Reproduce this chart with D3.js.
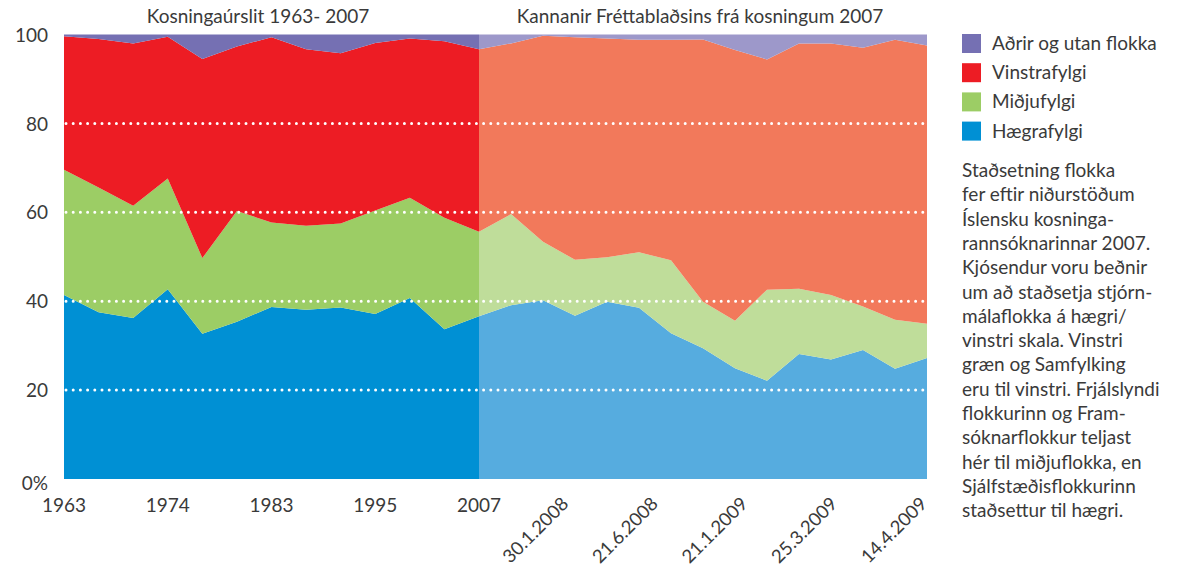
<!DOCTYPE html>
<html>
<head>
<meta charset="utf-8">
<script src="https://cdn.jsdelivr.net/npm/d3@7"></script>
<style>
  body { margin: 0; background: #fff; }
  svg { display: block; font-family: Lato, "Open Sans", sans-serif; }
</style>
</head>
<body>
<div id="chart"></div>
<script>
// election results 1963-2007 (% of vote by left/right placement)
const years = [1963, 1967, 1971, 1974, 1978, 1979, 1983, 1987, 1991, 1995, 1999, 2003, 2007]
const yearTicks = [1963, 1974, 1983, 1995, 2007]
const electRight = [41.4, 37.5, 36.2, 42.7, 32.7, 35.4, 38.7, 38.1, 38.6, 37.1, 40.7, 33.7, 36.6]
const electCenter = [28.2, 28.1, 25.3, 24.9, 17.0, 24.9, 19.0, 18.9, 18.9, 23.3, 22.6, 25.1, 19.0]
const electLeft = [30.0, 33.4, 36.5, 31.9, 44.8, 37.0, 41.7, 39.7, 38.3, 37.7, 35.8, 39.7, 41.1]
const electOther = [0.4, 1.0, 2.0, 0.5, 5.5, 2.7, 0.6, 3.3, 4.2, 1.9, 0.9, 1.5, 3.3]

// Fréttablaðið polls after the 2007 election
const pollTicks = ['30.1.2008', '21.6.2008', '21.1.2009', '25.3.2009', '14.4.2009']
const pollRight = [39.1, 40.2, 36.7, 39.9, 38.5, 32.8, 29.4, 24.9, 22.1, 28.1, 26.9, 29.0, 24.8, 27.2]
const pollCenter = [20.5, 13.2, 12.6, 10.0, 12.5, 16.4, 10.5, 10.7, 20.5, 14.7, 14.5, 9.8, 11.0, 7.7]
const pollLeft = [38.4, 46.3, 50.1, 49.2, 47.8, 49.6, 59.0, 60.9, 51.8, 55.2, 56.6, 58.2, 63.0, 62.6]
const pollOther = [2.0, 0.3, 0.6, 0.9, 1.2, 1.2, 1.1, 3.5, 5.6, 2.0, 2.0, 3.0, 1.2, 2.5]

const keys = ['right', 'center', 'left', 'other']
const legendNames = ['Aðrir og utan flokka', 'Vinstrafylgi', 'Miðjufylgi', 'Hægrafylgi']
const darkColors = { right: '#0090d4', center: '#9ccd65', left: '#ed1c24', other: '#7570b3' }
const lightColors = { right: '#56acdf', center: '#bfdd9a', left: '#f2795b', other: '#9d98ca' }

const note = [
  'Staðsetning flokka',
  'fer eftir niðurstöðum',
  'Íslensku kosninga-',
  'rannsóknarinnar 2007.',
  'Kjósendur voru beðnir',
  'um að staðsetja stjórn-',
  'málaflokka á hægri/',
  'vinstri skala. Vinstri',
  'græn og Samfylking',
  'eru til vinstri. Frjálslyndi',
  'flokkurinn og Fram-',
  'sóknarflokkur teljast',
  'hér til miðjuflokka, en',
  'Sjálfstæðisflokkurinn',
  'staðsettur til hægri.'
]

const width = 1179, height = 569
const svg = d3.select('#chart').append('svg')
  .attr('width', width)
  .attr('height', height)

const x0 = 64, xMid = 479, x1 = 927
const y = d3.scaleLinear().domain([0, 100]).range([479, 34.5])

// build rows
const elect = years.map((yr, i) => ({
  right: electRight[i], center: electCenter[i], left: electLeft[i], other: electOther[i]
}))
const last = elect[elect.length - 1]
const polls = [last].concat(pollRight.map((v, i) => ({
  right: v, center: pollCenter[i], left: pollLeft[i], other: pollOther[i]
})))

const xE = d3.scaleLinear().domain([0, elect.length - 1]).range([x0, xMid])
const xP = d3.scaleLinear().domain([0, polls.length - 1]).range([xMid, x1])

const stack = d3.stack().keys(keys)

function drawPart(rows, xs, colors) {
  const series = stack(rows)
  const area = d3.area()
    .x((d, i) => xs(i))
    .y0(d => y(d[0]))
    .y1(d => y(Math.min(100, d[1])))
  svg.append('g').selectAll('path')
    .data(series)
    .enter()
    .append('path')
    .attr('fill', d => colors[d.key])
    .attr('d', area)
  // fill up to 100 with 'other' for any rounding gap
  svg.append('path')
    .attr('fill', colors.other)
    .attr('d', d3.area()
      .x((d, i) => xs(i))
      .y0(d => y(Math.min(100, d[1])))
      .y1(y(100))(series[series.length - 1]))
}
drawPart(elect, xE, darkColors)
drawPart(polls, xP, lightColors)

// dotted white gridlines
svg.append('g').selectAll('line')
  .data([20, 40, 60, 80])
  .enter()
  .append('line')
  .attr('x1', x0 + 2)
  .attr('x2', x1)
  .attr('y1', d => y(d))
  .attr('y2', d => y(d))
  .attr('stroke', '#fff')
  .attr('stroke-width', 3)
  .attr('stroke-linecap', 'round')
  .attr('stroke-dasharray', '0,7.2')

// y axis
const yAxis = svg.append('g')
  .attr('transform', 'translate(' + x0 + ',0)')
  .call(d3.axisLeft(y).tickValues([0, 20, 40, 60, 80, 100])
    .tickSize(0).tickPadding(16)
    .tickFormat(d => d === 0 ? '0%' : d))
yAxis.select('.domain').remove()
yAxis.selectAll('text')
  .attr('font-size', 19)
  .attr('font-family', 'Lato, sans-serif')
  .attr('fill', '#3a3a3a')
  .attr('dy', d => d === 0 ? '0.55em' : '0.35em')

// x labels, elections
svg.append('g').selectAll('text')
  .data(yearTicks)
  .enter()
  .append('text')
  .attr('x', d => xE(years.indexOf(d)))
  .attr('y', 512)
  .attr('text-anchor', 'middle')
  .attr('font-size', 19)
  .attr('fill', '#3a3a3a')
  .text(d => d)

// x labels, polls (rotated)
const xT = d3.scaleLinear().domain([0, pollTicks.length]).range([xMid, x1])
svg.append('g').selectAll('text')
  .data(pollTicks)
  .enter()
  .append('text')
  .attr('transform', (d, i) => 'translate(' + (xT(i + 1) + 1) + ',505)rotate(-45)')
  .attr('text-anchor', 'end')
  .attr('font-size', 18.5)
  .attr('fill', '#3a3a3a')
  .text(d => d)

// titles
svg.append('text')
  .attr('x', 258).attr('y', 23)
  .attr('text-anchor', 'middle')
  .attr('font-size', 19)
  .attr('fill', '#3a3a3a')
  .text('Kosningaúrslit 1963- 2007')
svg.append('text')
  .attr('x', 700).attr('y', 23)
  .attr('text-anchor', 'middle')
  .attr('font-size', 19)
  .attr('fill', '#3a3a3a')
  .text('Kannanir Fréttablaðsins frá kosningum 2007')

// legend
const legendKeys = ['other', 'left', 'center', 'right']
const lg = svg.append('g').selectAll('g')
  .data(legendKeys)
  .enter()
  .append('g')
  .attr('transform', (d, i) => 'translate(962,' + (34 + i * 29.2) + ')')
lg.append('rect')
  .attr('width', 19).attr('height', 19)
  .attr('fill', d => darkColors[d])
lg.append('text')
  .attr('x', 30).attr('y', 16)
  .attr('font-size', 19)
  .attr('fill', '#3a3a3a')
  .text((d, i) => legendNames[i])

// explanatory note
svg.append('g').selectAll('text')
  .data(note)
  .enter()
  .append('text')
  .attr('x', 962)
  .attr('y', (d, i) => 177 + i * 24.3)
  .attr('font-size', 19)
  .attr('fill', '#3a3a3a')
  .text(d => d)
</script>
</body>
</html>
